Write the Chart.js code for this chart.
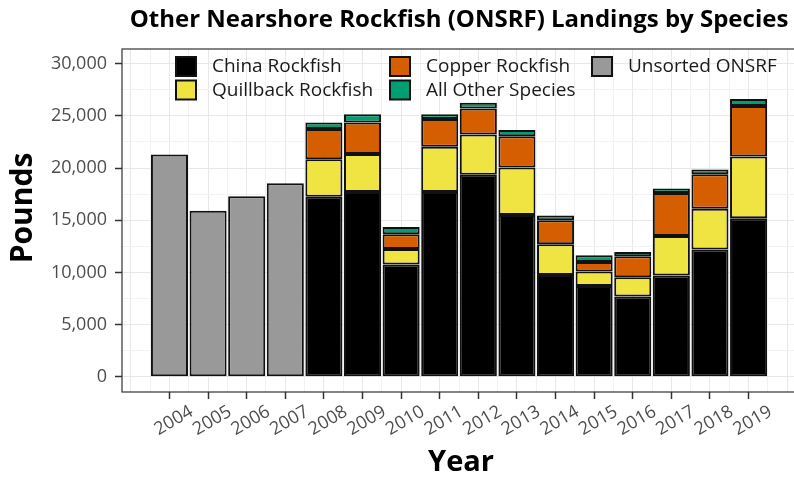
<!DOCTYPE html>
<html>
<head>
<meta charset="utf-8">
<script src="https://cdn.jsdelivr.net/npm/chart.js@4.4.1/dist/chart.umd.min.js"></script>
<style>
  html, body { margin: 0; padding: 0; background: #fff; overflow: hidden; }
  #wrap { width: 800px; height: 481px; }
</style>
</head>
<body>
<div id="wrap"><canvas id="landingsChart"></canvas></div>
<script>
const chartTitle = "Other Nearshore Rockfish (ONSRF) Landings by Species";
const years = [2004, 2005, 2006, 2007, 2008, 2009, 2010, 2011, 2012, 2013, 2014, 2015, 2016, 2017, 2018, 2019];
const chinaRockfish = [null, null, null, null, 17250, 17700, 10750, 17700, 19350, 15500, 9750, 8700, 7700, 9700, 12200, 15200];
const quillbackRockfish = [null, null, null, null, 3600, 3650, 1500, 4350, 3850, 4550, 2950, 1400, 1850, 3800, 3900, 5900];
const copperRockfish = [null, null, null, null, 2900, 3000, 1400, 2650, 2500, 3000, 2300, 900, 2000, 4100, 3300, 4850];
const allOtherSpecies = [null, null, null, null, 600, 800, 700, 450, 550, 600, 450, 650, 400, 450, 450, 650];
const unsortedOnsrf = [21300, 15900, 17300, 18550, null, null, null, null, null, null, null, null, null, null, null, null];
const yTicks = [0, 5000, 10000, 15000, 20000, 25000, 30000];

const FONT = '"Open Sans", "DejaVu Sans", sans-serif';

function isMajorY(v) { return yTicks.includes(v); }
function isMajorX(v) { return years.includes(v); }

// legend slots: [dataset index, x, y]
const legendSlots = [[0, 176, 57], [1, 176, 80.5], [2, 390, 57], [3, 390, 80.5], [4, 592, 57]];

const decor = {
  id: "decor",
  afterDraw(chart) {
    const { ctx, chartArea: a } = chart;
    ctx.save();
    ctx.strokeStyle = "#333";
    ctx.lineWidth = 1.2;
    ctx.strokeRect(a.left, a.top, a.right - a.left, a.bottom - a.top);

    ctx.fillStyle = "#000";
    ctx.textAlign = "center";
    ctx.textBaseline = "middle";
    ctx.font = "bold 24px " + FONT;
    ctx.fillText(chartTitle, 459, 20);
    ctx.font = "bold 29px " + FONT;
    ctx.fillText("Year", 461, 463);
    ctx.font = "bold 30px " + FONT;
    ctx.translate(23, 208);
    ctx.rotate(-Math.PI / 2);
    ctx.fillText("Pounds", 0, 0);
    ctx.restore();

    ctx.save();
    ctx.font = "19px " + FONT;
    ctx.textAlign = "left";
    ctx.textBaseline = "middle";
    legendSlots.forEach(([i, x, y]) => {
      const ds = chart.data.datasets[i];
      ctx.fillStyle = ds.backgroundColor;
      ctx.fillRect(x, y, 20, 19);
      ctx.strokeStyle = "#111";
      ctx.lineWidth = 2;
      ctx.strokeRect(x, y, 20, 19);
      ctx.fillStyle = "#1a1a1a";
      ctx.fillText(ds.label, x + 36, y + 10);
    });
    ctx.restore();
  }
};

function bars(label, data, color) {
  return {
    label: label,
    data: data,
    backgroundColor: color,
    borderColor: "#111",
    borderWidth: 2,
    borderSkipped: false,
    // the bar ruler sees the half-year grid ticks, so 1.92 of that spacing ~ 0.96 year
    barPercentage: 1.92,
    categoryPercentage: 1
  };
}

new Chart(document.getElementById("landingsChart"), {
  type: "bar",
  data: {
    labels: years,
    datasets: [
      bars("China Rockfish", chinaRockfish, "#000000"),
      bars("Quillback Rockfish", quillbackRockfish, "#F0E442"),
      bars("Copper Rockfish", copperRockfish, "#D55E00"),
      bars("All Other Species", allOtherSpecies, "#009E73"),
      bars("Unsorted ONSRF", unsortedOnsrf, "#999999")
    ]
  },
  options: {
    responsive: true,
    maintainAspectRatio: false,
    animation: false,
    layout: { padding: { left: 0, top: 49, right: 2, bottom: 0 } },
    plugins: {
      legend: { display: false },
      title: { display: false },
      tooltip: { enabled: false }
    },
    scales: {
      x: {
        type: "linear",
        offset: false,
        stacked: true,
        min: 2002.77,
        max: 2020.23,
        afterBuildTicks(s) {
          const t = [];
          for (let v = years[0] - 1; v <= years[years.length - 1] + 1; v += 0.5) t.push({ value: v });
          s.ticks = t;
        },
        afterFit(s) { s.height = 89; },
        border: { display: false },
        grid: {
          offset: false,
          color: c => c.tick && Number.isInteger(c.tick.value) ? "#e8e8e8" : "#f2f2f2",
          tickColor: c => c.tick && isMajorX(c.tick.value) ? "#333" : "rgba(0,0,0,0)",
          tickLength: 7,
          tickWidth: 1.5
        },
        ticks: {
          autoSkip: false,
          minRotation: 30,
          maxRotation: 30,
          labelOffset: 22,
          padding: 2,
          color: "#4d4d4d",
          font: { family: FONT, size: 18 },
          callback: v => isMajorX(v) ? String(v) : ""
        }
      },
      y: {
        stacked: true,
        min: -1450,
        max: 31400,
        afterBuildTicks(s) {
          const t = [];
          yTicks.forEach((v, i) => {
            t.push({ value: v });
            if (i < yTicks.length - 1) t.push({ value: (v + yTicks[i + 1]) / 2 });
          });
          s.ticks = t;
        },
        afterFit(s) { s.width = 122; },
        border: { display: false },
        grid: {
          color: c => c.tick && isMajorY(c.tick.value) ? "#e8e8e8" : "#f2f2f2",
          tickColor: c => c.tick && isMajorY(c.tick.value) ? "#333" : "rgba(0,0,0,0)",
          tickLength: 7,
          tickWidth: 1.5
        },
        ticks: {
          autoSkip: false,
          padding: 8,
          color: "#4d4d4d",
          font: { family: FONT, size: 18 },
          callback: v => isMajorY(v) ? v.toLocaleString("en-US") : ""
        }
      }
    }
  },
  plugins: [decor]
});
</script>
</body>
</html>
